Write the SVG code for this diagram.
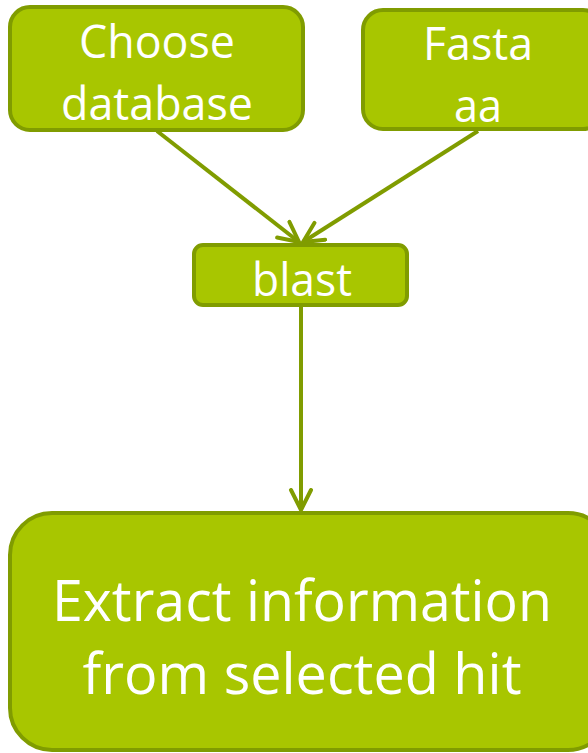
<svg xmlns="http://www.w3.org/2000/svg" width="588" height="753" viewBox="0 0 588 753">
<defs>
<style>
.box{fill:#a8c600;stroke:#809c00;stroke-width:4}
.t{font-family:"Open Sans","Liberation Sans",sans-serif;fill:#fff;text-anchor:middle}
.c{stroke:#809c00;stroke-width:4;fill:none}
</style>
<marker id="ah" markerUnits="userSpaceOnUse" markerWidth="30" markerHeight="30" refX="22" refY="12" orient="auto">
<path d="M2,2 L22,12 L2,22" fill="none" stroke="#809c00" stroke-width="4" stroke-linecap="round"/>
</marker>
</defs>
<rect width="588" height="753" fill="#fff"/>
<g id="connectors">
<line class="c" x1="157" y1="131" x2="299" y2="242" marker-end="url(#ah)"/>
<line class="c" x1="478" y1="131" x2="303" y2="242" marker-end="url(#ah)"/>
<line class="c" x1="301" y1="307" x2="301" y2="510" marker-end="url(#ah)"/>
</g>
<g id="choose">
<rect class="box" x="10" y="7" width="293" height="123" rx="20"/>
<text class="t" x="157" y="58" font-size="45" textLength="156" lengthAdjust="spacingAndGlyphs">Choose</text>
<text class="t" x="157" y="120" font-size="45" textLength="192" lengthAdjust="spacingAndGlyphs">database</text>
</g>
<g id="fasta">
<rect class="box" x="363" y="10" width="240" height="119" rx="20"/>
<text class="t" x="478" y="60" font-size="45" textLength="110" lengthAdjust="spacingAndGlyphs">Fasta</text>
<text class="t" x="478" y="122" font-size="45" textLength="48" lengthAdjust="spacingAndGlyphs">aa</text>
</g>
<g id="blast">
<rect class="box" x="194" y="245" width="213" height="60" rx="9"/>
<text class="t" x="302" y="296" font-size="46" textLength="100" lengthAdjust="spacingAndGlyphs">blast</text>
</g>
<g id="extract">
<rect class="box" x="10" y="513" width="600" height="237" rx="42"/>
<text class="t" x="302" y="621" font-size="56" textLength="500" lengthAdjust="spacingAndGlyphs">Extract information</text>
<text class="t" x="302" y="694" font-size="56" textLength="439" lengthAdjust="spacingAndGlyphs">from selected hit</text>
</g>
</svg>
